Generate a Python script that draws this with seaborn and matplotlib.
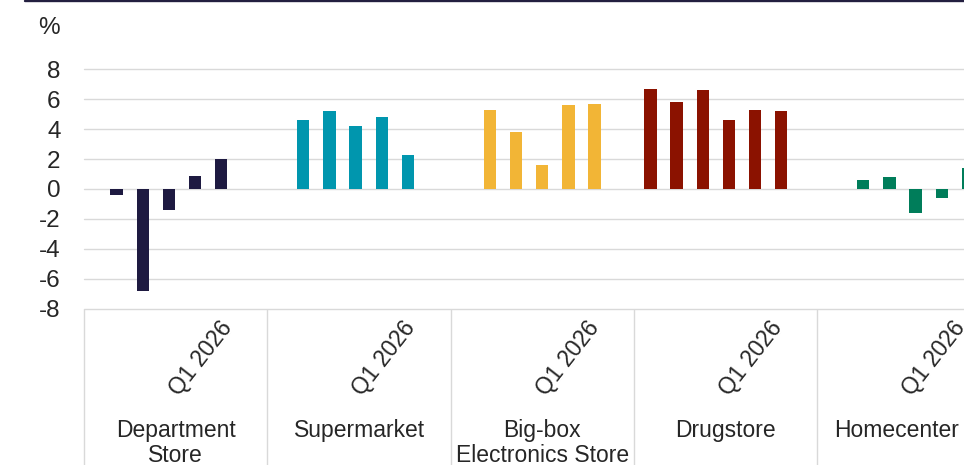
import numpy as np
import pandas as pd
import seaborn as sns
import matplotlib.pyplot as plt
import matplotlib.transforms as mtransforms
from matplotlib.lines import Line2D

# ─── DATA ────────────────────────────────────────────────────────────────────
STORES = ["Department\nStore", "Supermarket", "Big-box\nElectronics Store",
          "Drugstore", "Homecenter"]
QUARTERS = ["Q4 2024", "Q1 2025", "Q2 2025", "Q3 2025", "Q4 2025", "Q1 2026", "Q2 2026"]
SHOWN_LABEL = "Q1 2026"

nan = np.nan
DEPARTMENT = [nan, -0.4, -6.8, -1.4, 0.9, 2.0, nan]
SUPERMARKET = [nan, 4.6, 5.2, 4.2, 4.8, 2.3, nan]
BIGBOX = [nan, 5.3, 3.8, 1.6, 5.6, 5.7, nan]
DRUGSTORE = [6.7, 5.8, 6.6, 4.6, 5.3, 5.2, nan]
HOMECENTER = [nan, 0.6, 0.8, -1.6, -0.6, 1.4, nan]

COLORS = ["#1e1a41", "#0096ae", "#f2b536", "#8b1200", "#007d5a"]
Y_TICKS = [-8, -6, -4, -2, 0, 2, 4, 6, 8]

# ─── BUILD LONG TABLE ────────────────────────────────────────────────────────
rows = []
for store, vals in zip(STORES, [DEPARTMENT, SUPERMARKET, BIGBOX, DRUGSTORE, HOMECENTER]):
    for q, v in zip(QUARTERS, vals):
        if not np.isnan(v):
            rows.append({"slot": f"{store}|{q}", "store": store, "value": v})
df = pd.DataFrame(rows)
order = [f"{s}|{q}" for s in STORES for q in QUARTERS]

# ─── STYLE ───────────────────────────────────────────────────────────────────
sns.set_style("white")
plt.rcParams["font.family"] = ["Liberation Sans", "DejaVu Sans"]
plt.rcParams["axes.unicode_minus"] = False
TEXT = "#262626"
GRID = "#d9d9d9"

fig = plt.figure(figsize=(9.64, 4.65), dpi=100)
ax = fig.add_axes([0.0874, 0.3355, 0.9502, 0.5161])

sns.barplot(data=df, x="slot", y="value", hue="store", order=order,
            hue_order=STORES, palette=COLORS, dodge=True, width=0.66,
            saturation=1, errorbar=None, legend=False, ax=ax)

# Excel-like overlapping clustered bars: narrow each bar around its centre
BAR_W = 0.47
for p in ax.patches:
    cx = p.get_x() + p.get_width() / 2
    p.set_width(BAR_W)
    p.set_x(cx - BAR_W / 2)
    p.set_linewidth(0)

ax.set_xlim(-0.5, len(order) - 0.5)
ax.set_ylim(Y_TICKS[0], Y_TICKS[-1])
ax.set_yticks(Y_TICKS)
ax.set_yticklabels([str(t) for t in Y_TICKS], fontsize=17.5, color=TEXT)
ax.tick_params(axis="y", length=0, pad=17)

ax.yaxis.grid(True, color=GRID, lw=1.0, clip_on=False)
ax.set_axisbelow(True)
for s in ax.spines.values():
    s.set_visible(False)
ax.set_xlabel("")
ax.set_ylabel("")

# quarter tick labels (only the latest quarter is labelled)
tick_pos = [order.index(f"{s}|{SHOWN_LABEL}") for s in STORES]
ax.set_xticks(tick_pos)
ax.set_xticklabels([SHOWN_LABEL] * len(tick_pos), fontsize=16.5, color=TEXT,
                   rotation=52, ha="right", va="center", rotation_mode="anchor")
ax.tick_params(axis="x", length=0, pad=11)

# group separators below the plot
n_q = len(QUARTERS)
bounds = [i * n_q - 0.5 for i in range(len(STORES) + 1)]
ax.vlines(bounds, -0.66, 0, transform=ax.get_xaxis_transform(),
          color=GRID, lw=1.0, clip_on=False)

# group names
trans = mtransforms.blended_transform_factory(ax.transData, fig.transFigure)
labels = []
for i, store in enumerate(STORES):
    cx = i * n_q + (n_q - 1) / 2
    labels.append(ax.text(cx, 0.0995, store, transform=trans, ha="center",
                          va="top", fontsize=16.5, color=TEXT, linespacing=1.15))

# keep a cropped group name inside the visible area
fig.canvas.draw()
fig_w = fig.bbox.width
for t in labels:
    bb = t.get_window_extent()
    if bb.x1 > fig_w - 4:
        shift = bb.x1 - (fig_w - 5)
        x_disp = ax.transData.transform((t.get_position()[0], 0))[0] - shift
        t.set_x(ax.transData.inverted().transform((x_disp, 0))[0])

# unit label and top rule
fig.text(0.0622, 0.927, "%", ha="right", va="baseline", fontsize=17.5, color=TEXT)
fig.add_artist(Line2D([0.026, 1.0], [0.9975, 0.9975], color="#231f40", lw=1.7,
                      transform=fig.transFigure))

fig.savefig("out.png", dpi=100)
